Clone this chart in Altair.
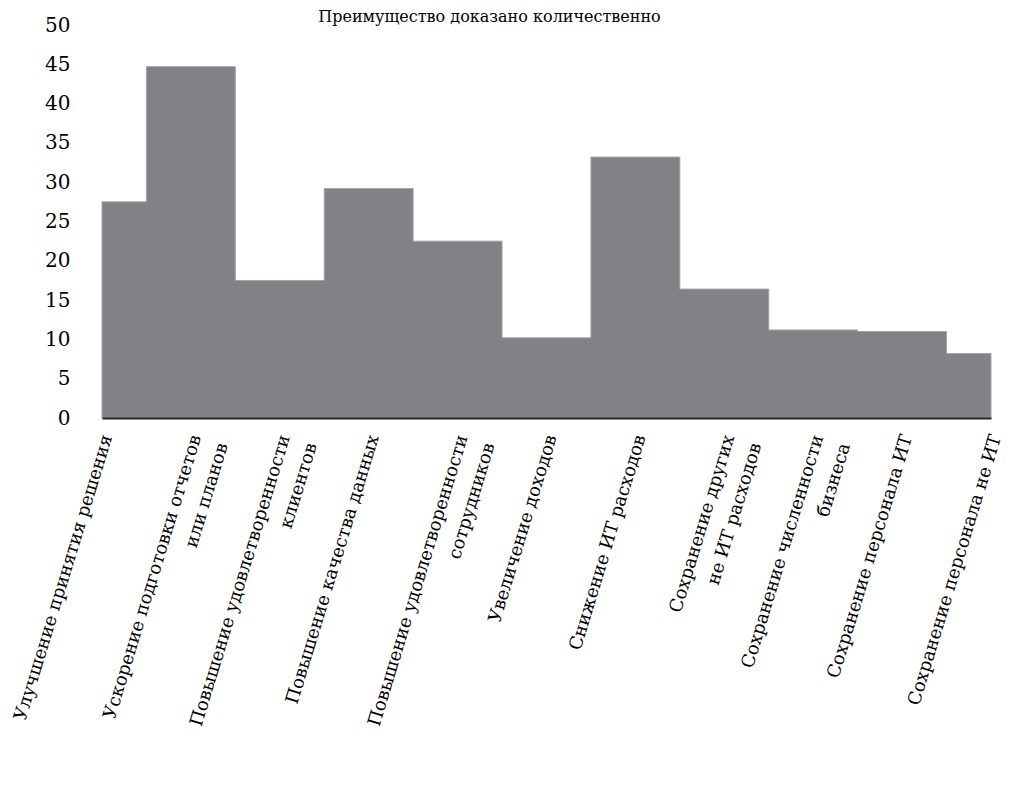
import altair as alt
import pandas as pd

categories = [
    "Улучшение принятия решения",
    "Ускорение подготовки отчетов|или планов",
    "Повышение удовлетворенности|клиентов",
    "Повышение качества данных",
    "Повышение удовлетворенности|сотрудников",
    "Увеличение доходов",
    "Снижение ИТ расходов",
    "Сохранение других|не ИТ расходов",
    "Сохранение численности|бизнеса",
    "Сохранение персонала ИТ",
    "Сохранение персонала не ИТ",
]
values = [27.5, 44.7, 17.5, 29.2, 22.5, 10.2, 33.2, 16.4, 11.2, 11.0, 8.2]
y_ticks = [0, 5, 10, 15, 20, 25, 30, 35, 40, 45, 50]
title_text = "Преимущество доказано количественно"

df = pd.DataFrame({"cat": categories, "val": values})

FONT = "DejaVu Serif"

chart = alt.Chart(df).mark_area(
    interpolate="step", color="#818285", stroke="#a3a4a7", strokeWidth=1
).encode(
    x=alt.X("cat:N", sort=None, title=None,
            scale=alt.Scale(type="point", padding=0),
            axis=alt.Axis(labelAngle=287, labelFont=FONT, labelFontSize=18,
                          labelColor="black", labelPadding=17, labelOffset=5,
                          ticks=False,
                          domainColor="#222222", domainWidth=2, grid=False,
                          labelLimit=1000, labelOverlap=False, labelFlush=False,
                          labelBound=False, labelLineHeight=28, zindex=1,
                          labelExpr="split(datum.label, '|')")),
    y=alt.Y("val:Q", title=None,
            scale=alt.Scale(domain=[0, 50], nice=False, zero=True),
            axis=alt.Axis(values=y_ticks, labelFont=FONT, labelFontSize=20,
                          labelColor="black", labelPadding=32, ticks=False,
                          domain=False, grid=False)),
).properties(
    width=889,
    height=393,
    padding={"left": 94, "top": 17, "right": 14, "bottom": 367},
    autosize=alt.AutoSizeParams(type="none"),
    title=alt.TitleParams(title_text, font=FONT, fontSize=16, fontWeight="normal",
                          color="black", anchor="middle", dx=-57, offset=-10),
).configure_view(stroke=None)

chart.save("out.html", embed_options={"renderer": "svg", "actions": False})
